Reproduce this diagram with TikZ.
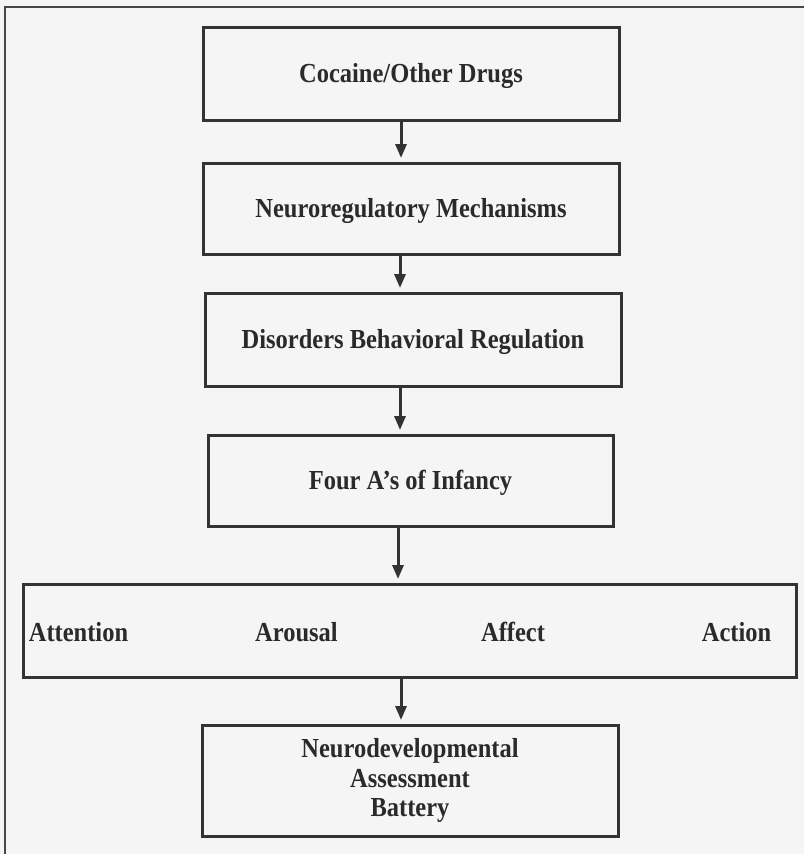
\documentclass[tikz,border=0pt]{standalone}
\usepackage{fontspec}
\setmainfont[FakeStretch=0.89]{Liberation Serif}
\usetikzlibrary{arrows.meta}
\definecolor{bg}{HTML}{F5F5F5}
\definecolor{ink}{HTML}{333333}
\definecolor{txt}{HTML}{2A2A2A}
\tikzset{
  x=1pt, y=-1pt,
  boxnode/.style={draw=ink, line width=3pt, rectangle, outer sep=0pt, inner sep=0pt,
    text=txt, font=\bfseries\fontsize{27.5pt}{29.5pt}\selectfont,
    text height=17.5pt, text depth=0pt},
  lbl/.style={anchor=base, inner sep=0pt, text=txt, font=\bfseries\fontsize{27.5pt}{29.5pt}\selectfont},
  arr/.style={draw=ink, line width=3pt, -{Triangle[length=14pt,width=11pt]}, shorten >=5pt},
}
\begin{document}
\begin{tikzpicture}
\fill[bg] (0,0) rectangle (804,854);
\useasboundingbox (0,0) rectangle (804,854);
\coordinate (fl) at (5,854);
\coordinate (fc) at (5,7);
\coordinate (fr) at (804,7);
\draw[ink!90, line width=2pt] (fl) -- (fc) -- (fr);

\node[boxnode, minimum width=416, minimum height=93] (b1) at (411,73.5) {Cocaine/Other Drugs};
\node[boxnode, minimum width=416, minimum height=91] (b2) at (411,208.5) {Neuroregulatory Mechanisms};
\node[boxnode, minimum width=416, minimum height=93] (b3) at (413,339.5) {Disorders Behavioral Regulation};
\node[boxnode, minimum width=405, minimum height=91] (b4) at (410.5,480.5) {Four A’s of Infancy};
\node[boxnode, minimum width=773, minimum height=93] (b5) at (409.5,630.5) {};
\node[lbl] (att) at (78.5,641) {Attention};
\node[lbl] (aro) at (296.5,641) {Arousal};
\node[lbl] (aff) at (513,641) {Affect};
\node[lbl] (act) at (736.5,641) {Action};
\node[boxnode, minimum width=416, minimum height=111, align=center, text height=, text depth=, yshift=0pt] (b6) at (410,780.5) {Neurodevelopmental\\Assessment\\Battery};

\draw[arr] (b1.south -| 401,0) -- (b2.north -| 401,0);
\draw[arr] (b2.south -| 400,0) -- (b3.north -| 400,0);
\draw[arr] (b3.south -| 400,0) -- (b4.north -| 400,0);
\draw[arr] (b4.south -| 398,0) -- (b5.north -| 398,0);
\draw[arr] (b5.south -| 401,0) -- (b6.north -| 401,0);
\end{tikzpicture}
\end{document}
